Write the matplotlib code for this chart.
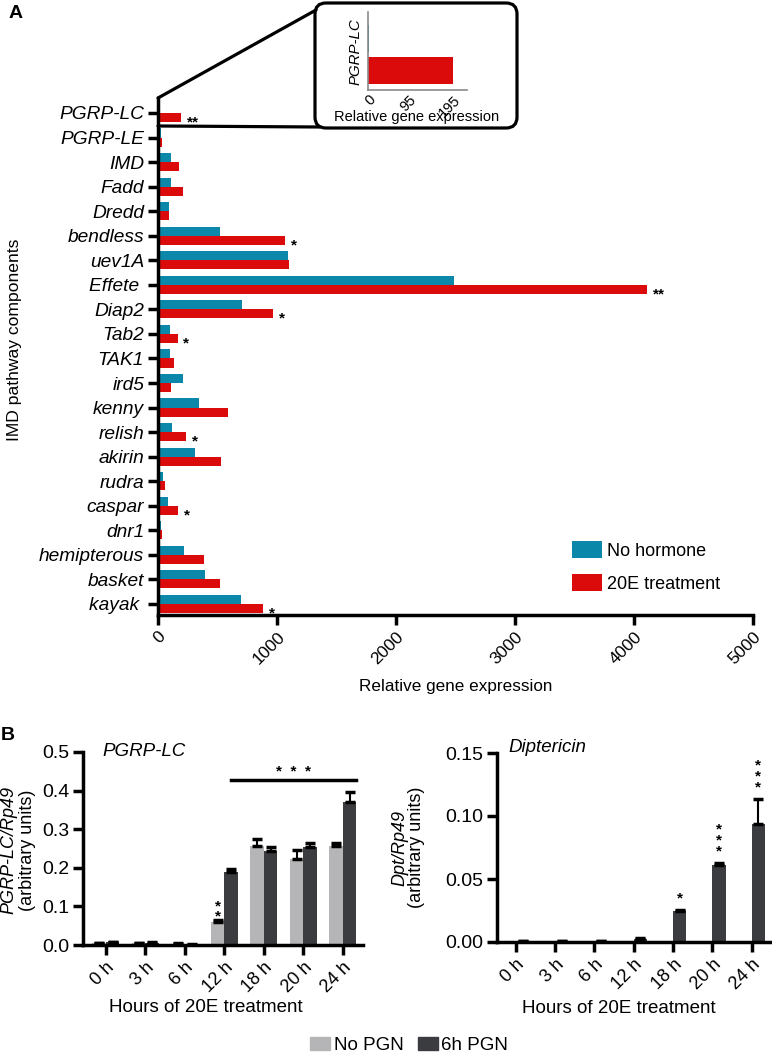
import matplotlib.pyplot as plt
import numpy as np
from matplotlib.patches import FancyBboxPatch, Patch

plt.rcParams['font.family'] = ['Liberation Sans', 'DejaVu Sans']

W, H = 772, 1055

# Panel A: IMD pathway genes, relative expression
genes = [
    'PGRP-LC', 'PGRP-LE', 'IMD', 'Fadd', 'Dredd', 'bendless', 'uev1A',
    'Effete ', 'Diap2', 'Tab2', 'TAK1', 'ird5', 'kenny', 'relish', 'akirin',
    'rudra', 'caspar', 'dnr1', 'hemipterous', 'basket', 'kayak ',
]
no_hormone = [2, 25, 113, 113, 93, 523, 1093, 2490, 706, 105, 105, 206,
              342, 121, 308, 42, 85, 28, 218, 398, 698]
treat_20e = [195, 30, 175, 206, 95, 1068, 1105, 4110, 966, 167, 133, 107,
             588, 235, 528, 57, 170, 34, 384, 525, 884]
sig_a = ['**', '', '', '', '', '*', '', '**', '*', '*', '', '',
         '', '*', '', '', '*', '', '', '', '*']
x_ticks_a = [0, 1000, 2000, 3000, 4000, 5000]

# inset (zoom on PGRP-LC)
inset_values = [2, 195]
inset_ticks = [0, 95, 195]

# Panel B: time course
hours = ['0 h', '3 h', '6 h', '12 h', '18 h', '20 h', '24 h']
lc_nopgn = [0.004, 0.004, 0.003, 0.060, 0.256, 0.224, 0.256]
lc_nopgn_err = [0.002, 0.002, 0.002, 0.004, 0.018, 0.021, 0.009]
lc_pgn = [0.007, 0.005, 0.001, 0.190, 0.244, 0.254, 0.371]
lc_pgn_err = [0.002, 0.002, 0.001, 0.006, 0.010, 0.010, 0.026]
lc_stars_nopgn = [0, 0, 0, 2, 0, 0, 0]

dpt_nopgn = [0, 0, 0, 0, 0, 0, 0]
dpt_pgn = [0.0005, 0.0007, 0.0007, 0.0025, 0.0244, 0.0615, 0.0940]
dpt_pgn_err = [0.0002, 0.0003, 0.0003, 0.0006, 0.0012, 0.0015, 0.0195]
dpt_stars_pgn = [0, 0, 0, 0, 1, 3, 3]

BLUE = '#0b88a9'
RED = '#dc0b0b'
LIGHT = '#b5b5b7'
DARK = '#3b3c40'
LW = 2.5

fig = plt.figure(figsize=(W / 100, H / 100), dpi=100)


def px_axes(left, top, right, bottom, **kw):
    return fig.add_axes([left / W, 1 - bottom / H, (right - left) / W, (bottom - top) / H], **kw)


def style_axes(ax):
    for s in ['top', 'right']:
        ax.spines[s].set_visible(False)
    for s in ['left', 'bottom']:
        ax.spines[s].set_linewidth(LW)
    ax.tick_params(width=LW, length=7, pad=3)


def stars_above(ax, x, y, n, first, step, fs=11):
    # vertical stack of n asterisks above (x, y); first/step in points
    if n == 0:
        return
    ax.annotate('\n'.join(['*'] * n), (x, y), xytext=(0, first - 0.79 * fs),
                textcoords='offset points', ha='center', va='bottom',
                fontsize=fs, fontweight='bold', linespacing=step / (0.97 * fs),
                annotation_clip=False)


# ---------------- Panel A ----------------
axA = px_axes(158, 98, 753, 615)
y = np.arange(len(genes))
bh = 0.37
axA.barh(y - bh / 2, no_hormone, height=bh, color=BLUE, label='No hormone')
axA.barh(y + bh / 2, treat_20e, height=bh, color=RED, label='20E treatment')
axA.set_xlim(0, 5000)
axA.set_ylim(20.45, -0.61)
axA.set_yticks(y)
axA.set_yticklabels(genes, fontstyle='italic', fontsize=13.8)
axA.set_xticks(x_ticks_a)
axA.set_xticklabels([str(t) for t in x_ticks_a], rotation=45, ha='right', va='top',
                    rotation_mode='anchor', fontsize=12.5)
style_axes(axA)
for yi, v, s in zip(y, treat_20e, sig_a):
    if s:
        axA.annotate(s, (v, yi + bh / 2), xytext=(4, -6.3), textcoords='offset points',
                     ha='left', va='baseline', fontsize=11, fontweight='bold')
axA.text(-0.241, 0.532, 'IMD pathway components', transform=axA.transAxes,
         rotation=90, ha='center', va='center', fontsize=12.6)
axA.text(0.5, -0.139, 'Relative gene expression', transform=axA.transAxes,
         ha='center', va='center', fontsize=12.3)
axA.legend(loc='upper left', bbox_to_anchor=(572 / W, 1 - 541 / H), bbox_transform=fig.transFigure,
           frameon=False, fontsize=13, handlelength=1.65, handleheight=1.05,
           handletextpad=0.3, labelspacing=0.8, borderpad=0, borderaxespad=0)

# inset
axI = px_axes(368, 12, 467, 90)
axI.patch.set_visible(False)
axI.barh([0, 1], inset_values, height=0.86, color=[BLUE, RED])
axI.set_xlim(0, 227)
axI.set_ylim(1.63, -0.84)
axI.set_yticks([])
axI.set_xticks(inset_ticks)
axI.set_xticklabels([str(t) for t in inset_ticks], rotation=45, ha='right', va='top',
                    rotation_mode='anchor', fontsize=10.5)
axI.tick_params(length=0, pad=2)
for s in ['top', 'right']:
    axI.spines[s].set_visible(False)
for s in ['left', 'bottom']:
    axI.spines[s].set_color('#8a8a8a')
    axI.spines[s].set_linewidth(1.2)
axI.text(-0.13, 0.49, 'PGRP-LC', transform=axI.transAxes, rotation=90, ha='center',
         va='center', fontsize=10.8, fontstyle='italic')
axI.text(0.495, -0.346, 'Relative gene expression', transform=axI.transAxes,
         ha='center', va='center', fontsize=10.5)

# callout box + connector lines, drawn in pixel space
ov = fig.add_axes([0, 0, 1, 1], zorder=5)
ov.set_xlim(0, W)
ov.set_ylim(H, 0)
ov.axis('off')
ov.add_patch(FancyBboxPatch((315, 3), 202, 125, boxstyle='round,pad=0,rounding_size=11',
                            fill=False, lw=2.3, ec='black'))
to_px = lambda x, yy: ov.transData.inverted().transform(axA.transData.transform((x, yy)))
top_left = to_px(0, -0.61)
below_lc = to_px(0, 0.53)
ov.plot([top_left[0], 316], [top_left[1], 10], color='black', lw=2.3, solid_capstyle='round')
ov.plot([below_lc[0], 320], [below_lc[1], 127], color='black', lw=2.3, solid_capstyle='round')

fig.text(16 / W, 1 - 13 / H, 'A', fontsize=14, fontweight='bold', ha='center', va='center')
fig.text(8 / W, 1 - 735 / H, 'B', fontsize=14, fontweight='bold', ha='center', va='center')

# ---------------- Panel B ----------------
x = np.arange(len(hours))
w = 0.34


def time_panel(ax, light, dark, light_err, dark_err):
    ax.bar(x - w / 2, light, w, color=LIGHT, zorder=2)
    ax.bar(x + w / 2, dark, w, color=DARK, zorder=2)
    if light_err is not None:
        ax.errorbar(x - w / 2, light, yerr=[np.zeros(len(x)), light_err], fmt='none',
                    ecolor='black', elinewidth=1.5, capsize=3.6, capthick=2.5, zorder=3)
    ax.errorbar(x + w / 2, dark, yerr=[np.zeros(len(x)), dark_err], fmt='none',
                ecolor='black', elinewidth=1.5, capsize=3.6, capthick=2.5, zorder=3)
    ax.set_xticks(x)
    ax.set_xticklabels(hours, rotation=45, ha='right', va='top', rotation_mode='anchor',
                       fontsize=13)
    ax.tick_params(axis='y', labelsize=14)
    style_axes(ax)


axL = px_axes(83, 752, 363, 945)
time_panel(axL, lc_nopgn, lc_pgn, lc_nopgn_err, lc_pgn_err)
axL.set_xlim(-0.58, 6.51)
axL.set_ylim(0, 0.5)
axL.set_yticks(np.arange(0, 0.51, 0.1))
axL.set_yticklabels([f'{v:.1f}' for v in np.arange(0, 0.51, 0.1)])
tops = np.array(lc_nopgn) + np.array(lc_nopgn_err)
for xi, t, n in zip(x, tops, lc_stars_nopgn):
    stars_above(axL, xi - w / 2, t, n, 6.5, 6.5)
bracket_y = max(np.array(lc_pgn) + np.array(lc_pgn_err)) + 0.031
axL.plot([3 + w / 2, 6 + w], [bracket_y, bracket_y], color='black', lw=LW, clip_on=False)
axL.annotate('*  *  *', ((3 + w / 2 + 6 + w) / 2, bracket_y), xytext=(0, 9 - 6.4),
             textcoords='offset points', ha='center', va='baseline', fontsize=11,
             fontweight='bold')
axL.text(0.071, 1.0, 'PGRP-LC', transform=axL.transAxes, ha='left', va='center',
         fontsize=13.5, fontstyle='italic')
axL.text(-0.265, 0.49, 'PGRP-LC/Rp49', transform=axL.transAxes, rotation=90,
         ha='center', va='center', fontsize=13, fontstyle='italic')
axL.text(-0.2, 0.49, '(arbitrary units)', transform=axL.transAxes, rotation=90,
         ha='center', va='center', fontsize=13)
axL.text(0.44, -0.326, 'Hours of 20E treatment', transform=axL.transAxes,
         ha='center', va='center', fontsize=13.5)

axR = px_axes(497, 753, 771, 942)
time_panel(axR, dpt_nopgn, dpt_pgn, None, dpt_pgn_err)
axR.set_xlim(-0.48, 6.49)
axR.set_ylim(0, 0.15)
axR.set_yticks([0, 0.05, 0.10, 0.15])
axR.set_yticklabels(['0.00', '0.05', '0.10', '0.15'])
tops = np.array(dpt_pgn) + np.array(dpt_pgn_err)
for xi, t, n in zip(x, tops, dpt_stars_pgn):
    stars_above(axR, xi + w / 2, t, n, 12, 7.6)
axR.text(0.04, 1.03, 'Diptericin', transform=axR.transAxes, ha='left', va='center',
         fontsize=13.5, fontstyle='italic')
axR.text(-0.353, 0.5, 'Dpt/Rp49', transform=axR.transAxes, rotation=90,
         ha='center', va='center', fontsize=13, fontstyle='italic')
axR.text(-0.295, 0.5, '(arbitrary units)', transform=axR.transAxes, rotation=90,
         ha='center', va='center', fontsize=13)
axR.text(0.444, -0.35, 'Hours of 20E treatment', transform=axR.transAxes,
         ha='center', va='center', fontsize=13.5)

fig.legend(handles=[Patch(color=LIGHT, label='No PGN'), Patch(color=DARK, label='6h PGN')],
           ncol=2, loc='upper left', bbox_to_anchor=(310 / W, 1 - 1037 / H),
           frameon=False, fontsize=13.5, handlelength=1.07, handleheight=0.7,
           handletextpad=0.2, columnspacing=0.75, borderpad=0, borderaxespad=0)

fig.savefig('out.png', dpi=100)
